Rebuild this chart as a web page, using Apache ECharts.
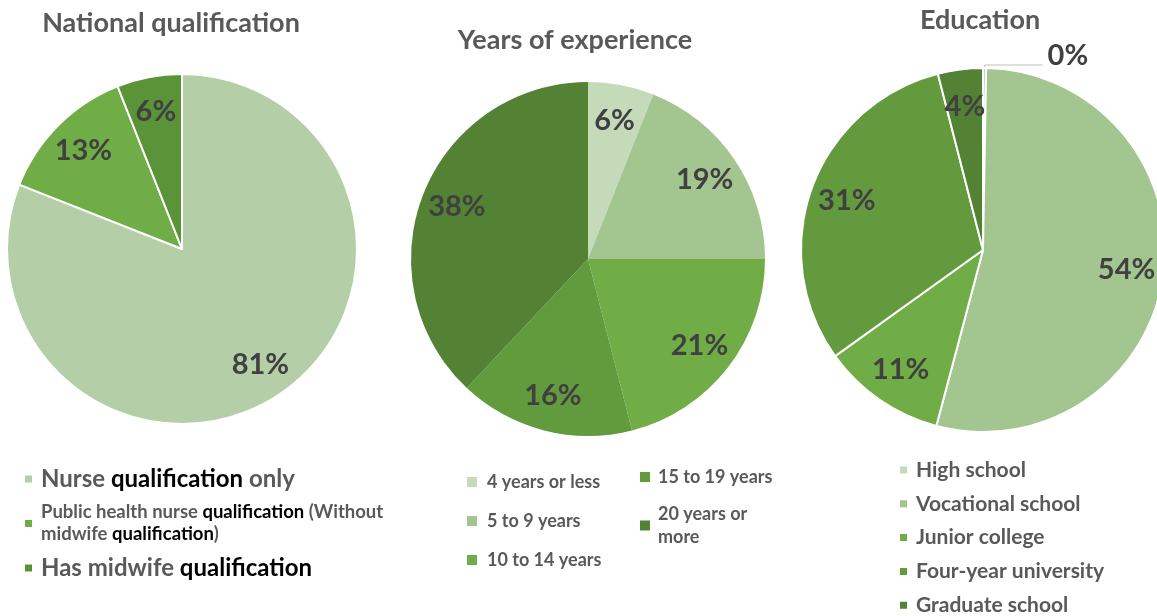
<!DOCTYPE html>
<html>
<head>
<meta charset="utf-8">
<script src="https://cdn.jsdelivr.net/npm/echarts@6/dist/echarts.min.js"></script>
<style>
  html, body { margin: 0; padding: 0; background: #ffffff; }
  #chart { width: 1157px; height: 616px; }
</style>
</head>
<body>
<div id="chart"></div>
<script>
// Survey composition: three pies with their own legends.
const titles = ['National qualification', 'Years of experience', 'Education'];

const qualCategories = [
  'Nurse qualification only',
  'Public health nurse qualification (Without midwife qualification)',
  'Has midwife qualification'
];
const qualValues = [81, 13, 6];

const expCategories = ['4 years or less', '5 to 9 years', '10 to 14 years', '15 to 19 years', '20 years or more'];
const expValues = [6, 19, 21, 16, 38];

const eduCategories = ['High school', 'Vocational school', 'Junior college', 'Four-year university', 'Graduate school'];
const eduValues = [0, 54, 11, 31, 4];

const qualColors = ['#b4cea7', '#70ad47', '#5a9338'];
const expColors = ['#c4dab9', '#a3c590', '#70ad47', '#629b3e', '#538234'];
const eduColors = ['#c4dab9', '#a3c590', '#70ad47', '#639a3e', '#538234'];

const FONT = 'Lato, "Open Sans", sans-serif';
const GRAY = '#595959';
const LABEL = '#404040';

function toData(names, values, colors) {
  return names.map((n, i) => ({ name: n, value: values[i], itemStyle: { color: colors[i] } }));
}

function pctLabel(p) { return Math.round(p.percent) + '%'; }

// Visible pie + transparent ring on top that carries the labels,
// so the labels sit out toward the rim.
function pieLayers(names, values, colors, center, R, border, extra) {
  const base = {
    type: 'pie',
    center: center,
    radius: [0, R],
    startAngle: 90,
    clockwise: true,
    minAngle: 1,
    avoidLabelOverlap: false,
    silent: true,
    emphasis: { disabled: true },
    animation: false
  };
  const shape = Object.assign({}, base, {
    data: toData(names, values, colors),
    itemStyle: { borderColor: '#ffffff', borderWidth: border },
    label: { show: false },
    labelLine: { show: false }
  });
  const labels = Object.assign({}, base, {
    radius: [R * 0.56, R],
    data: names.map((n, i) => {
      const d = { name: n, value: values[i], itemStyle: { color: 'rgba(0,0,0,0)' } };
      if (extra && extra[i]) Object.assign(d, extra[i]);
      return d;
    }),
    itemStyle: { borderWidth: 0 },
    label: {
      show: true, position: 'inside', formatter: pctLabel,
      fontFamily: FONT, fontSize: 29, fontWeight: 'bold', color: LABEL
    },
    labelLine: { show: false }
  });
  return [shape, labels];
}

// Splits the legend name into lines and renders the word
// "qualification" in black.
function wrapWords(text, maxChars) {
  const words = text.split(' ');
  const lines = [];
  let cur = '';
  words.forEach(w => {
    const next = cur ? cur + ' ' + w : w;
    if (next.length > maxChars && cur) { lines.push(cur); cur = w; } else { cur = next; }
  });
  if (cur) lines.push(cur);
  return lines;
}
function qualFormatter(name) {
  const size = name.length > 30 ? 's' : 'l';
  const lines = wrapWords(name, size === 's' ? 42 : 100);
  return lines.map(line =>
    line.split(/(qualification)/).filter(s => s).map(s =>
      '{' + (s === 'qualification' ? 'k' : 'g') + size + '|' + s + '}'
    ).join('')
  ).join('\n');
}

const option = {
  backgroundColor: '#ffffff',
  textStyle: { fontFamily: FONT },
  title: [
    { text: titles[0], left: 171, top: 8 },
    { text: titles[1], left: 575, top: 25 },
    { text: titles[2], left: 980, top: 5 }
  ].map(t => Object.assign(t, {
    textAlign: 'center', padding: 0,
    textStyle: { fontFamily: FONT, fontSize: 27, fontWeight: 'bold', color: GRAY, lineHeight: 30 }
  })),
  legend: [
    {
      data: qualCategories, orient: 'vertical', left: 23, top: 467, padding: 0,
      icon: 'rect', itemWidth: 9, itemHeight: 9, itemGap: 12,
      selectedMode: false,
      formatter: qualFormatter,
      textStyle: {
        padding: [0, 0, 0, 3],
        rich: {
          gl: { fontFamily: FONT, fontSize: 24, fontWeight: 'bold', color: GRAY, lineHeight: 30 },
          kl: { fontFamily: FONT, fontSize: 24, fontWeight: 'bold', color: '#000000', lineHeight: 30 },
          gs: { fontFamily: FONT, fontSize: 18.5, fontWeight: 'bold', color: GRAY, lineHeight: 22 },
          ks: { fontFamily: FONT, fontSize: 18.5, fontWeight: 'bold', color: '#000000', lineHeight: 22 }
        }
      }
    },
    {
      data: expCategories.slice(0, 3), orient: 'vertical', left: 467, top: 470.5, padding: 0,
      icon: 'rect', itemWidth: 10, itemHeight: 10, itemGap: 16,
      selectedMode: false,
      textStyle: { fontFamily: FONT, fontSize: 18, fontWeight: 'bold', color: GRAY, lineHeight: 23, padding: [0, 0, 0, 5] }
    },
    {
      data: expCategories.slice(3), orient: 'vertical', left: 640, top: 465.5, padding: 0,
      icon: 'rect', itemWidth: 10, itemHeight: 10, itemGap: 14,
      selectedMode: false,
      textStyle: {
        fontFamily: FONT, fontSize: 18, fontWeight: 'bold', color: GRAY, lineHeight: 23,
        padding: [0, 0, 0, 3], width: 122, overflow: 'break'
      }
    },
    {
      data: eduCategories, orient: 'vertical', left: 898, top: 458, padding: 0,
      height: 200,
      icon: 'rect', itemWidth: 9, itemHeight: 9, itemGap: 9.8,
      selectedMode: false,
      textStyle: { fontFamily: FONT, fontSize: 21, fontWeight: 'bold', color: GRAY, lineHeight: 24, padding: [0, 0, 0, 3] }
    }
  ],
  series: [
    ...pieLayers(qualCategories, qualValues, qualColors, [182, 249], 175, 2),
    ...pieLayers(expCategories, expValues, expColors, [588, 259], 177, 0),
    ...pieLayers(eduCategories, eduValues, eduColors, [983, 250], 182, 2, [{
      // the zero slice is labelled outside, lifted above its leader line
      label: { position: 'outside', formatter: p => pctLabel(p) + '\n ', lineHeight: 18 },
      labelLine: { show: true, length: 3, length2: 58, lineStyle: { color: '#bfbfbf', width: 1 } }
    }])
  ]
};

const chart = echarts.init(document.getElementById('chart'), null, { renderer: 'canvas' });
chart.setOption(option);
</script>
</body>
</html>
